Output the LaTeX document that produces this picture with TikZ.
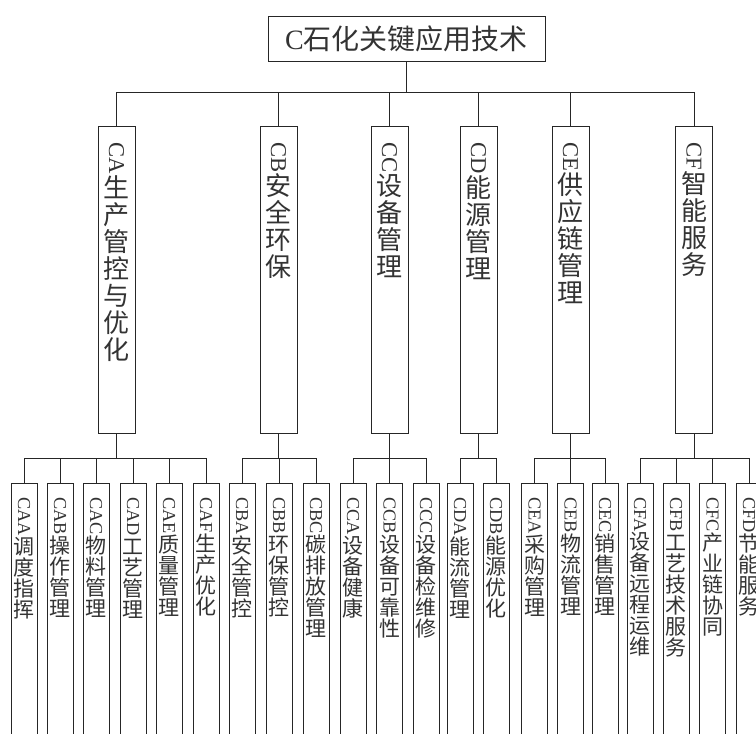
\documentclass[tikz,border=0pt]{standalone}
\usepackage{graphicx}
\usepackage{fontspec}
\setmainfont{Noto Sans CJK SC}
\newfontfamily\latinf{Liberation Serif}
\newdimen\vpitch
\def\vstackA#1{\ifx\relax#1\else\hbox to \hsize{\hss\raisebox{0pt}[0.88\vpitch][0.12\vpitch]{#1}\hss}\expandafter\vstackA\fi}
% #1 width, #2 height, #3 top skip, #4 pitch, #5 latin code, #6 cjk text
\newcommand\vcol[6]{\vbox to #2{\offinterlineskip\hsize=#1\relax\vpitch=#4\relax\vskip#3\relax
  \hbox to \hsize{\hss\rotatebox{-90}{\scalebox{0.87}{\latinf #5}}\hss}%
  \vstackA#6\relax\vss}}
\begin{document}
\begin{tikzpicture}[x=1pt,y=-1pt,
  box/.style={draw=black!85, line width=0.9pt, inner sep=0pt, outer sep=0pt, text=black!80},
  lone/.style={box, anchor=north, font=\fontsize{26}{27}\selectfont},
  ltwo/.style={box, anchor=north, font=\fontsize{21}{21}\selectfont},
  conn/.style={draw=black!85, line width=0.9pt}]
\useasboundingbox (0,0) rectangle (756,734);
\clip (0,0) rectangle (756,734);
\fill[white] (0,0) rectangle (756,734);

\node[box, minimum width=277pt, minimum height=45pt, font=\fontsize{28}{28}\selectfont] (C) at (406.5,38.5) {{\latinf C}石化关键应用技术};

\node[lone] (CA) at (116.5,126) {\vcol{37pt}{307pt}{16pt}{27pt}{CA}{生产管控与优化}};
\node[lone] (CB) at (278.5,126) {\vcol{37pt}{307pt}{16pt}{27pt}{CB}{安全环保}};
\node[lone] (CC) at (389.5,126) {\vcol{37pt}{307pt}{16pt}{27pt}{CC}{设备管理}};
\node[lone] (CD) at (478.5,126) {\vcol{37pt}{307pt}{16pt}{27pt}{CD}{能源管理}};
\node[lone] (CE) at (570.5,126) {\vcol{37pt}{307pt}{16pt}{27pt}{CE}{供应链管理}};
\node[lone] (CF) at (694,126) {\vcol{37pt}{307pt}{16pt}{27pt}{CF}{智能服务}};

\node[ltwo] (CAA) at (24,483) {\vcol{26pt}{262pt}{14pt}{21pt}{CAA}{调度指挥}};
\node[ltwo] (CAB) at (60,483) {\vcol{26pt}{262pt}{14pt}{21pt}{CAB}{操作管理}};
\node[ltwo] (CAC) at (96,483) {\vcol{26pt}{262pt}{14pt}{21pt}{CAC}{物料管理}};
\node[ltwo] (CAD) at (133,483) {\vcol{26pt}{262pt}{14pt}{21pt}{CAD}{工艺管理}};
\node[ltwo] (CAE) at (169,483) {\vcol{26pt}{262pt}{14pt}{21pt}{CAE}{质量管理}};
\node[ltwo] (CAF) at (206,483) {\vcol{26pt}{262pt}{14pt}{21pt}{CAF}{生产优化}};
\node[ltwo] (CBA) at (242,483) {\vcol{26pt}{262pt}{14pt}{21pt}{CBA}{安全管控}};
\node[ltwo] (CBB) at (279,483) {\vcol{26pt}{262pt}{14pt}{21pt}{CBB}{环保管控}};
\node[ltwo] (CBC) at (316,483) {\vcol{26pt}{262pt}{14pt}{21pt}{CBC}{碳排放管理}};
\node[ltwo] (CCA) at (353,483) {\vcol{26pt}{262pt}{14pt}{21pt}{CCA}{设备健康}};
\node[ltwo] (CCB) at (389.5,483) {\vcol{26pt}{262pt}{14pt}{21pt}{CCB}{设备可靠性}};
\node[ltwo] (CCC) at (426,483) {\vcol{26pt}{262pt}{14pt}{21pt}{CCC}{设备检维修}};
\node[ltwo] (CDA) at (460,483) {\vcol{26pt}{262pt}{14pt}{21pt}{CDA}{能流管理}};
\node[ltwo] (CDB) at (496,483) {\vcol{26pt}{262pt}{14pt}{21pt}{CDB}{能源优化}};
\node[ltwo] (CEA) at (534.5,483) {\vcol{26pt}{262pt}{14pt}{21pt}{CEA}{采购管理}};
\node[ltwo] (CEB) at (570.5,483) {\vcol{26pt}{262pt}{14pt}{21pt}{CEB}{物流管理}};
\node[ltwo] (CEC) at (605,483) {\vcol{26pt}{262pt}{14pt}{21pt}{CEC}{销售管理}};
\node[ltwo] (CFA) at (640,483) {\vcol{26pt}{262pt}{14pt}{21pt}{CFA}{设备远程运维}};
\node[ltwo] (CFB) at (676,483) {\vcol{26pt}{262pt}{14pt}{21pt}{CFB}{工艺技术服务}};
\node[ltwo] (CFC) at (712.5,483) {\vcol{26pt}{262pt}{14pt}{21pt}{CFC}{产业链协同}};
\node[ltwo] (CFD) at (749,483) {\vcol{26pt}{262pt}{14pt}{21pt}{CFD}{节能服务}};

\foreach \c in {CA,CB,CC,CD,CE,CF}
  \draw[conn] (C.south) -- ++(0,31.5) -| (\c.north);
\foreach \c in {CAA,CAB,CAC,CAD,CAE,CAF}
  \draw[conn] (CA.south) -- ++(0,25) -| (\c.north);
\foreach \c in {CBA,CBB,CBC}
  \draw[conn] (CB.south) -- ++(0,25) -| (\c.north);
\foreach \c in {CCA,CCB,CCC}
  \draw[conn] (CC.south) -- ++(0,25) -| (\c.north);
\foreach \c in {CDA,CDB}
  \draw[conn] (CD.south) -- ++(0,25) -| (\c.north);
\foreach \c in {CEA,CEB,CEC}
  \draw[conn] (CE.south) -- ++(0,25) -| (\c.north);
\foreach \c in {CFA,CFB,CFC,CFD}
  \draw[conn] (CF.south) -- ++(0,25) -| (\c.north);
\end{tikzpicture}
\end{document}
